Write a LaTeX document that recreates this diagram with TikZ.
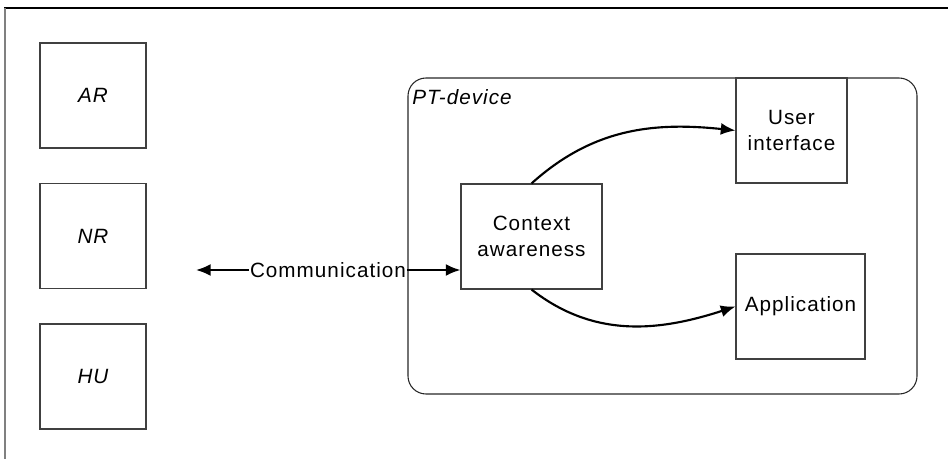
\documentclass[tikz,border=0pt]{standalone}
\usepackage{fontspec}
\setmainfont{Liberation Sans}[LetterSpace=5]
\usetikzlibrary{arrows.meta}
\begin{document}
\begin{tikzpicture}[x=0.75pt,y=-0.75pt,
  box/.style={draw=black!75, line width=0.8pt, inner sep=0pt,
    font=\fontsize{15.5}{20}\selectfont, align=center},
  agent/.style={box, minimum width=79.5pt, minimum height=78.75pt,
    font=\fontsize{15.5}{20}\selectfont\itshape},
  flow/.style={line width=1.6pt, -{Latex[length=11pt,width=9pt]}},
]
\useasboundingbox (0,0) rectangle (948,459);

% page frame (top and left edges)
\draw[line width=1.1pt] (4,8) -- (948,8);
\draw[black!50, line width=1.6pt] (5,8) -- (5,459);

% external agents
\node[agent] (ar) at (93,95.5)  {AR};
\node[agent] (nr) at (93,236)   {NR};
\node[agent] (hu) at (93,376.5) {HU};

% device container
\node[draw=black!85, line width=0.8pt, rounded corners=13.5pt,
      minimum width=381.75pt, minimum height=237pt, inner sep=0pt]
      (dev) at (662.5,236) {};
\node[anchor=west, inner sep=0pt, font=\fontsize{15.5}{20}\selectfont\itshape]
      (devlbl) at (412,97) {PT-device};

% device components
\node[box, minimum width=105.75pt, minimum height=78.75pt] (ctx) at (531.5,236.5)
      {Context\\awareness};
\node[box, minimum width=83.25pt, minimum height=78.75pt] (ui) at (791.5,130.5)
      {User\\interface};
\node[box, minimum width=96.75pt, minimum height=78.75pt] (app) at (800.5,306.5)
      {Application};

% communication link
\node[inner sep=0.5pt, font=\fontsize{15.5}{20}\selectfont] (comm) at (328,270)
      {Communication};
\coordinate (lft) at (196,270);
\draw[flow] (comm.west) -- (lft);
\draw[flow] (comm.east) -- (comm.east -| ctx.west);

% internal flows
\draw[flow] (ctx.north) to[out=42,in=174] (ui.west);
\draw[flow] (ctx.south) to[out=-38,in=198] (app.west);
\end{tikzpicture}
\end{document}
